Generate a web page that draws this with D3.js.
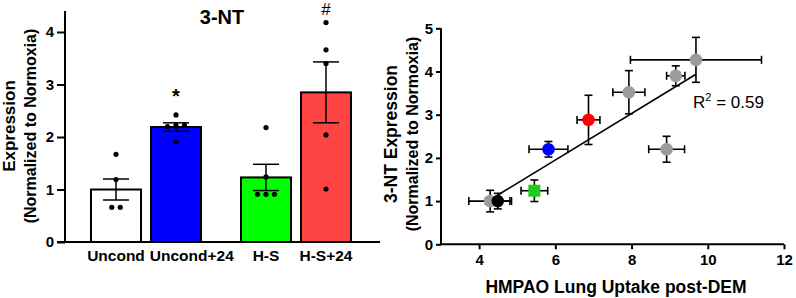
<!DOCTYPE html>
<html lang="en">
<meta charset="utf-8">
<head>
    <script src='https://d3js.org/d3.v7.min.js'></script>
    <style>
        body { margin: 0; background: #fff; }
        text { font-family: 'Liberation Sans', Arial, sans-serif; }
    </style>
</head>
<body>
</body>

<script>
    var width = 796, height = 298;

    // bar chart data (3-NT expression)
    var groups = ['Uncond', 'Uncond+24', 'H-S', 'H-S+24'];
    var pairs = ['Uncond', 'H-S'];
    var means = [1.0, 2.19, 1.23, 2.85];
    var sems = [0.2, 0.08, 0.25, 0.58];
    var dots = [
        [1.67, 1.19, 0.66, 0.66],
        [2.42, 2.22, 2.20, 2.22, 1.91],
        [2.18, 1.24, 0.91, 0.91, 0.91],
        [4.18, 3.66, 3.40, 2.04, 1.01]
    ];
    var marks = ['', '*', '', '#'];
    var barColors = ['#ffffff', '#0000ff', '#00ff00', '#ff4444'];
    var barTicks = [0, 1, 2, 3, 4];

    // scatter data (HMPAO uptake vs 3-NT)
    var kind = ['Other', 'Uncond', 'H-S', 'Uncond+24', 'H-S+24', 'Other', 'Other', 'Other', 'Other'];
    var uptake = [4.29, 4.49, 5.45, 5.82, 6.87, 7.93, 9.16, 9.69, 8.92];
    var uptakeErr = [0.56, 0.32, 0.35, 0.51, 0.3, 0.42, 0.24, 1.72, 0.47];
    var expr = [1.0, 1.0, 1.24, 2.2, 2.88, 3.52, 3.9, 4.27, 2.2];
    var exprErr = [0.25, 0.18, 0.25, 0.18, 0.57, 0.5, 0.23, 0.52, 0.3];
    var xTicks = [4, 6, 8, 10, 12];
    var yTicks = [0, 1, 2, 3, 4, 5];
    var r2Label = '0.59';

    var svg = d3.select('body').append('svg').attr('width', width).attr('height', height);

    // ---------- left: bar chart ----------
    var y = d3.scaleLinear().domain([0, 4.4]).range([242, 11]);
    var xPair = d3.scaleBand().domain(pairs).range([71, 371]).paddingInner(0.2667).paddingOuter(0.1333);
    var xIn = d3.scaleBand().domain([0, 1]).range([0, xPair.bandwidth()]).paddingInner(0.1667);
    function barX(i) { return xPair(pairs[Math.floor(i / 2)]) + xIn(i % 2); }
    function barC(i) { return barX(i) + xIn.bandwidth() / 2; }

    var left = svg.append('g');
    var bars = left.selectAll('g.bar').data(groups).join('g').attr('class', 'bar');
    bars.append('rect')
        .attr('x', function(d, i) { return barX(i); })
        .attr('y', function(d, i) { return y(means[i]); })
        .attr('width', xIn.bandwidth())
        .attr('height', function(d, i) { return y(0) - y(means[i]); })
        .attr('fill', function(d, i) { return barColors[i]; })
        .attr('stroke', '#000').attr('stroke-width', 2);

    // error bars
    bars.append('line')
        .attr('x1', function(d, i) { return barC(i); })
        .attr('x2', function(d, i) { return barC(i); })
        .attr('y1', function(d, i) { return y(means[i] - sems[i]); })
        .attr('y2', function(d, i) { return y(means[i] + sems[i]); })
        .attr('stroke', '#000').attr('stroke-width', 1.5);
    [-1, 1].forEach(function(s) {
        bars.append('line')
            .attr('x1', function(d, i) { return barC(i) - 13; })
            .attr('x2', function(d, i) { return barC(i) + 13; })
            .attr('y1', function(d, i) { return y(means[i] + s * sems[i]); })
            .attr('y2', function(d, i) { return y(means[i] + s * sems[i]); })
            .attr('stroke', '#000').attr('stroke-width', 1.5);
    });

    // individual points, spread sideways when values coincide
    dots.forEach(function(vals, i) {
        var pts = vals.map(function(v) { return {v: v}; });
        var sorted = pts.slice().sort(function(a, b) { return a.v - b.v; });
        var clusters = [];
        sorted.forEach(function(p) {
            var c = clusters[clusters.length - 1];
            if (c && Math.abs(c[0].v - p.v) < 0.08) c.push(p); else clusters.push([p]);
        });
        clusters.forEach(function(c) {
            c.forEach(function(p, k) { p.dx = (k - (c.length - 1) / 2) * 8.5; });
        });
        left.selectAll(null).data(pts).join('circle')
            .attr('cx', function(p) { return barC(i) + p.dx; })
            .attr('cy', function(p) { return y(p.v); })
            .attr('r', 2.6).attr('fill', '#000');
    });

    // significance marks
    left.selectAll('text.mark').data(marks).join('text').attr('class', 'mark')
        .attr('x', function(d, i) { return barC(i); })
        .attr('y', function(d, i) { return d === '*' ? y(d3.max(dots[i])) - 12 : y(d3.max(dots[i])) - 8; })
        .attr('text-anchor', 'middle')
        .style('font-size', function(d) { return d === '*' ? '20px' : '17px'; })
        .style('font-weight', function(d) { return d === '*' ? 'bold' : 'normal'; })
        .text(function(d) { return d; });

    // axes
    var yAxisL = left.append('g').attr('transform', 'translate(65,0)')
        .call(d3.axisLeft(y).tickValues(barTicks).tickSize(8).tickPadding(3).tickFormat(d3.format('d')));
    left.append('line').attr('x1', 57).attr('x2', 380).attr('y1', y(0)).attr('y2', y(0))
        .attr('stroke', '#000').attr('stroke-width', 2);

    // category labels, nudged right when they would run into the previous one
    var xl = left.selectAll('text.xl').data(groups).join('text').attr('class', 'xl')
        .attr('x', function(d, i) { return barC(i); })
        .attr('y', 261)
        .attr('text-anchor', 'middle')
        .style('font-size', '15.5px').style('font-weight', 'bold')
        .text(function(d) { return d; });
    var prevRight = -Infinity;
    xl.each(function() {
        var b = this.getBBox();
        var shift = Math.max(0, prevRight + 5 - b.x);
        d3.select(this).attr('x', +d3.select(this).attr('x') + shift);
        prevRight = b.x + b.width + shift;
    });

    left.append('text').attr('x', 222).attr('y', 24).attr('text-anchor', 'middle')
        .style('font-size', '20px').style('font-weight', 'bold').text('3-NT');

    var yl = left.append('text').attr('transform', 'translate(0,126) rotate(-90)')
        .attr('text-anchor', 'middle').style('font-weight', 'bold');
    yl.append('tspan').attr('x', 0).attr('y', 15).style('font-size', '17px').text('Expression');
    yl.append('tspan').attr('x', 0).attr('y', 36).style('font-size', '16px').text('(Normalized to Normoxia)');

    // ---------- right: scatter ----------
    var sx = d3.scaleLinear().domain([3, 12]).range([441, 784]);
    var sy = d3.scaleLinear().domain([0, 5]).range([244.3, 28.3]);
    var color = d3.scaleOrdinal()
        .domain(['Other', 'Uncond', 'H-S', 'Uncond+24', 'H-S+24'])
        .range(['#9c9c9c', '#000000', '#1ecb1e', '#0000ff', '#ff0000']);

    var right = svg.append('g');

    // least-squares fit across the group means
    var mx = d3.mean(uptake), my = d3.mean(expr);
    var sxy = d3.sum(uptake, function(v, i) { return (v - mx) * (expr[i] - my); });
    var sxx = d3.sum(uptake, function(v) { return (v - mx) * (v - mx); });
    var slope = sxy / sxx, icpt = my - slope * mx;
    var fitX = [uptake[1], d3.max(uptake)];
    right.append('path')
        .attr('d', d3.line()
            .x(function(v) { return sx(v); })
            .y(function(v) { return sy(icpt + slope * v); })(fitX))
        .attr('fill', 'none').attr('stroke', '#000').attr('stroke-width', 1.6);

    var idx = d3.range(uptake.length);
    var eb = right.selectAll('g.eb').data(idx).join('g').attr('class', 'eb')
        .attr('stroke', '#000').attr('stroke-width', 1.6);
    eb.append('line')
        .attr('x1', function(i) { return sx(uptake[i] - uptakeErr[i]); })
        .attr('x2', function(i) { return sx(uptake[i] + uptakeErr[i]); })
        .attr('y1', function(i) { return sy(expr[i]); })
        .attr('y2', function(i) { return sy(expr[i]); });
    eb.append('line')
        .attr('x1', function(i) { return sx(uptake[i]); })
        .attr('x2', function(i) { return sx(uptake[i]); })
        .attr('y1', function(i) { return sy(expr[i] - exprErr[i]); })
        .attr('y2', function(i) { return sy(expr[i] + exprErr[i]); });
    [-1, 1].forEach(function(s) {
        eb.append('line')
            .attr('x1', function(i) { return sx(uptake[i] + s * uptakeErr[i]); })
            .attr('x2', function(i) { return sx(uptake[i] + s * uptakeErr[i]); })
            .attr('y1', function(i) { return sy(expr[i]) - 4; })
            .attr('y2', function(i) { return sy(expr[i]) + 4; });
        eb.append('line')
            .attr('x1', function(i) { return sx(uptake[i]) - 4; })
            .attr('x2', function(i) { return sx(uptake[i]) + 4; })
            .attr('y1', function(i) { return sy(expr[i] + s * exprErr[i]); })
            .attr('y2', function(i) { return sy(expr[i] + s * exprErr[i]); });
    });

    right.selectAll('path.pt').data(idx).join('path').attr('class', 'pt')
        .attr('transform', function(i) { return 'translate(' + sx(uptake[i]) + ',' + sy(expr[i]) + ')'; })
        .attr('d', function(i) {
            return d3.symbol().type(kind[i] === 'H-S' ? d3.symbolSquare : d3.symbolCircle)
                .size(kind[i] === 'H-S' ? 144 : 125)();
        })
        .attr('fill', function(i) { return color(kind[i]); });

    var xAxisR = right.append('g').attr('transform', 'translate(0,' + sy(0) + ')')
        .call(d3.axisBottom(sx).tickValues(xTicks).tickSize(5).tickPadding(5).tickFormat(d3.format('d')));
    var yAxisR = right.append('g').attr('transform', 'translate(' + sx(3) + ',0)')
        .call(d3.axisLeft(sy).tickValues(yTicks).tickSize(5).tickPadding(3).tickFormat(d3.format('d')));

    [yAxisL, xAxisR, yAxisR].forEach(function(a) {
        a.select('.domain').attr('stroke-width', 2);
        a.selectAll('.tick line').attr('stroke-width', 2);
        a.selectAll('.tick text').attr('fill', '#000')
            .style('font-size', '15px').style('font-weight', 'bold')
            .style('font-family', "'Liberation Sans', Arial, sans-serif");
    });
    yAxisL.select('.domain').attr('d', 'M0,' + y(4.4) + 'V' + y(0));
    xAxisR.select('.domain').attr('d', 'M' + sx(3) + ',0H' + sx(12));
    yAxisR.select('.domain').attr('d', 'M0,' + sy(5) + 'V' + sy(0));

    right.append('text').attr('x', 616).attr('y', 293).attr('text-anchor', 'middle')
        .style('font-size', '17.5px').style('font-weight', 'bold').text('HMPAO Lung Uptake post-DEM');

    var yr = right.append('text').attr('transform', 'translate(0,134) rotate(-90)')
        .attr('text-anchor', 'middle').style('font-weight', 'bold');
    yr.append('tspan').attr('x', 0).attr('y', 397).style('font-size', '17.5px').text('3-NT Expression');
    yr.append('tspan').attr('x', 0).attr('y', 418).style('font-size', '16px').text('(Normalized to Normoxia)');

    var r2 = right.append('text').attr('x', 693).attr('y', 108).style('font-size', '17px');
    r2.append('tspan').text('R');
    r2.append('tspan').attr('dy', -7).style('font-size', '11px').text('2');
    r2.append('tspan').attr('dy', 7).text(' = ' + r2Label);
</script>
</html>
